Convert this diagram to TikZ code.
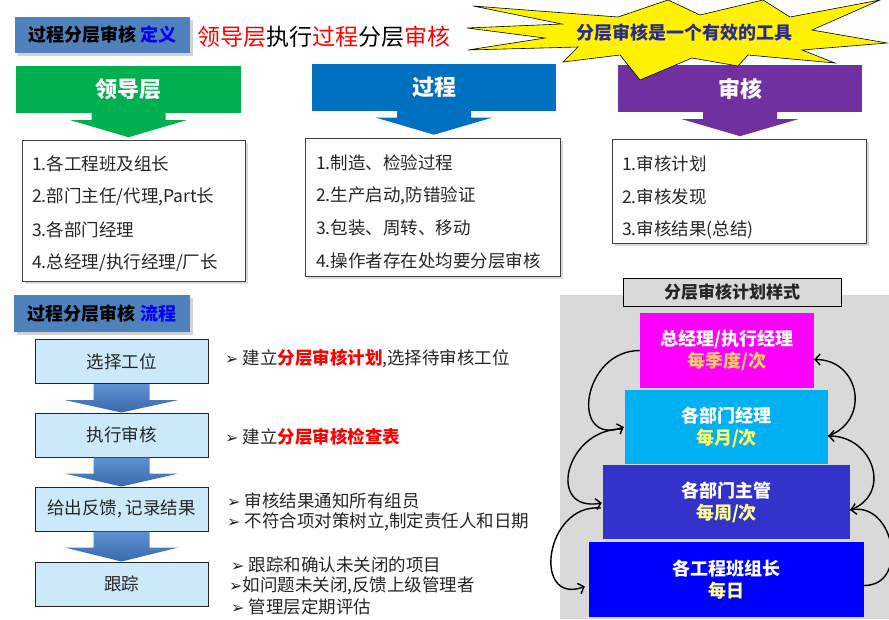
\documentclass[tikz,border=0pt]{standalone}
\usepackage{fontspec}
\setmainfont{Noto Sans CJK SC}
\newfontfamily\djv{DejaVu Sans}
\usetikzlibrary{calc,shadows,arrows.meta}
\definecolor{hdrblue}{HTML}{4F81BD}
\definecolor{cgreen}{HTML}{00B050}
\definecolor{cblue}{HTML}{0070C0}
\definecolor{cpurple}{HTML}{7030A0}
\definecolor{flowfill}{HTML}{CCE9FA}
\definecolor{flowtop}{HTML}{5E92D2}
\definecolor{flowbot}{HTML}{3A68AE}
\definecolor{pgray}{HTML}{D9D9D9}
\definecolor{lmag}{HTML}{FF00FF}
\definecolor{lcyan}{HTML}{00B0F0}
\definecolor{lind}{HTML}{3333CC}
\definecolor{lblue}{HTML}{0000FF}
\definecolor{txtdark}{HTML}{262626}
\definecolor{startxt}{HTML}{2B2B8F}
\definecolor{yorange}{HTML}{FFCC66}
\definecolor{ylight}{HTML}{FFFF66}
\definecolor{ypale}{HTML}{FFFF99}
\newcommand\hdrarrow[2]{\fill[#2] ($(#1.south)+(-37,-1)$) -- ++(74,0) -- ++(0,8) -- ++(21,0) -- ($(#1.south)+(0,24)$) -- ($(#1.south)+(-58,7)$) -- ++(21,0) -- cycle;}
\newcommand\flowarrow[2]{\path[top color=flowtop,bottom color=flowbot] ($(#1.south)+(-28,0)$) -- ++(56,0) -- ++(0,16) -- ++(29,0) -- (#2.north) -- ($(#1.south)+(-57,16)$) -- ++(29,0) -- cycle;}
\begin{document}
\begin{tikzpicture}[x=1pt,y=-1pt,
  hdrbox/.style={fill=hdrblue,minimum width=175pt,minimum height=36pt,inner sep=0pt,
     drop shadow={shadow xshift=3pt,shadow yshift=-3pt,fill=gray!70},font=\bfseries\fontsize{18}{18}\selectfont},
  colhead/.style={minimum width=#1,minimum height=47pt,inner sep=0pt,text=white,font=\bfseries\fontsize{22}{22}\selectfont},
  listbox/.style={draw=black!75,line width=0.8pt,fill=white,inner sep=0pt,
     drop shadow={shadow xshift=3pt,shadow yshift=-3pt,fill=gray!55}},
  listtxt/.style={anchor=west,inner sep=0pt,text=txtdark,font=\fontsize{17.5}{17.5}\selectfont},
  flowbox/.style={draw=black!85,line width=1pt,fill=flowfill,minimum width=173pt,minimum height=44pt,inner sep=0pt,
     text=txtdark,font=\fontsize{17.5}{17.5}\selectfont},
  bultxt/.style={anchor=west,inner sep=0pt,text=txtdark,font=\fontsize{17.5}{17.5}\selectfont},
  layer/.style={minimum height=75pt,inner sep=0pt,align=center,font=\bfseries\fontsize{18}{22}\selectfont},
  cyc/.style={line width=1.4pt,-{Straight Barb[length=5pt,width=11pt,line width=1.4pt]}}
]
\useasboundingbox (0,0) rectangle (889,619);
\fill[white] (0,0) rectangle (889,619);

% ---- top header and title
\node[hdrbox] (def) at (102.5,35) {过程分层审核\ \textcolor{blue}{定义}};
\node[anchor=west,inner sep=0pt,font=\fontsize{23}{23}\selectfont] (title) at (197,37)
  {\textcolor{red}{领导层}执行\textcolor{red}{过程}分层\textcolor{red}{审核}};

% ---- column headers
\node[colhead=225pt,fill=cgreen] (ghd) at (128.5,89.5) {领导层};
\node[colhead=244pt,fill=cblue] (bhd) at (434,87) {过程};
\node[colhead=244pt,fill=cpurple] (phd) at (740,88.5) {审核};
\hdrarrow{ghd}{cgreen}
\hdrarrow{bhd}{cblue}
\hdrarrow{phd}{cpurple}

% ---- star (drawn over the headers)
\draw[fill=yellow,line width=0.6pt,line join=miter]
  (473,6) -- (618,17) -- (668,0) -- (700,15) -- (763,0) -- (790,17) -- (880,0)
  -- (812,30) -- (887,43) -- (802,50) -- (835,63) -- (748,55) -- (738,66)
  -- (692,58) -- (640,80) -- (620,55) -- (563,62) -- (578,47) -- (468,50)
  -- (545,38) -- (467,28) -- (562,24) -- cycle;
\node[inner sep=0pt,text=startxt,font=\bfseries\fontsize{18}{18}\selectfont] (startext) at (684,33) {分层审核是一个有效的工具};

% ---- list boxes
\node[listbox,minimum width=223pt,minimum height=141pt] (box1) at (133.5,210.5) {};
\node[listbox,minimum width=255pt,minimum height=138pt] (box2) at (432.5,207) {};
\node[listbox,minimum width=254pt,minimum height=104pt] (box3) at (739,191) {};
\node[listtxt] (l1a) at (32,164) {1.各工程班及组长};
\node[listtxt] (l1b) at (32,197) {2.部门主任/代理,Part长};
\node[listtxt] (l1c) at (32,230) {3.各部门经理};
\node[listtxt] (l1d) at (32,263) {4.总经理/执行经理/厂长};
\node[listtxt] (l2a) at (316,163) {1.制造、检验过程};
\node[listtxt] (l2b) at (316,196) {2.生产启动,防错验证};
\node[listtxt] (l2c) at (316,228) {3.包装、周转、移动};
\node[listtxt] (l2d) at (316,261) {4.操作者存在处均要分层审核};
\node[listtxt] (l3a) at (622,164) {1.审核计划};
\node[listtxt] (l3b) at (622,197) {2.审核发现};
\node[listtxt] (l3c) at (622,230) {3.审核结果(总结)};

% ---- flow
\node[hdrbox,minimum width=176pt,minimum height=37pt] (flw) at (102,313.5) {过程分层审核\ \textcolor{blue}{流程}};
\node[flowbox] (f1) at (121.5,361.5) {选择工位};
\node[flowbox] (f2) at (121.5,435) {执行审核};
\node[flowbox] (f3) at (121.5,509) {给出反馈, 记录结果};
\node[flowbox] (f4) at (121.5,584) {跟踪};
\flowarrow{f1}{f2}
\flowarrow{f2}{f3}
\flowarrow{f3}{f4}
\newcommand\bul{{\djv\fontsize{16}{16}\selectfont ➢}}
\node[bultxt] (t1) at (225,359) {\bul\ 建立\textcolor{red}{\bfseries 分层审核计划},选择待审核工位};
\node[bultxt] (t2) at (225,437) {\bul\ 建立\textcolor{red}{\bfseries 分层审核检查表}};
\node[bultxt] (t3a) at (227,501) {\bul\ 审核结果通知所有组员};
\node[bultxt] (t3b) at (227,522) {\bul\ 不符合项对策树立,制定责任人和日期};
\node[bultxt] (t4a) at (231,565) {\bul\ 跟踪和确认未关闭的项目};
\node[bultxt] (t4b) at (229,586) {\bul 如问题未关闭,反馈上级管理者};
\node[bultxt] (t4c) at (231,607) {\bul\ 管理层定期评估};

% ---- pyramid
\fill[pgray] (560,295) rectangle (889,619);
\node[draw=black,line width=0.8pt,fill=pgray,minimum width=218pt,minimum height=28pt,inner sep=0pt,
  font=\bfseries\fontsize{17}{17}\selectfont,text=txtdark] (ptitle) at (732,292) {分层审核计划样式};
\node[layer,fill=lmag,minimum width=174pt] (lm) at (727,350.5)
  {\textcolor{white}{总经理/执行经理}\\\textcolor{yorange}{每季度/次}};
\node[layer,fill=lcyan,minimum width=203pt,minimum height=74pt] (lc) at (726.5,427)
  {\textcolor{white}{各部门经理}\\\textcolor{ylight}{每月/次}};
\node[layer,fill=lind,minimum width=247pt,minimum height=74pt] (li) at (726.5,502)
  {\textcolor{white}{各部门主管}\\\textcolor{ypale}{每周/次}};
\node[layer,fill=lblue,minimum width=275pt] (lb) at (726.5,579.5)
  {\textcolor{white}{各工程班组长}\\\textcolor{ypale}{每日}};

% left side: downwards
\draw[cyc] (lm.west) to[out=180,in=200,looseness=1.9] ($(lc.west)+(-1,0)$);
\draw[cyc] ($(lc.west)+(-3,2)$) to[out=180,in=190,looseness=1.9] ($(li.west)+(-1,1)$);
\draw[cyc] ($(li.west)+(-2,6)$) to[out=175,in=200,looseness=1.8] ($(lb.west)+(-4,7)$);
% right side: upwards
\draw[cyc] ($(lb.east)+(0,6)$) to[out=0,in=10,looseness=1.5] ($(li.east)+(0,8)$);
\draw[cyc] ($(li.east)+(0,8)$) to[out=20,in=0,looseness=1.5] ($(lc.east)+(0,9)$);
\draw[cyc] ($(lc.east)+(0,9)$) to[out=20,in=0,looseness=1.5] ($(lm.east)+(0,9)$);
\end{tikzpicture}
\end{document}
